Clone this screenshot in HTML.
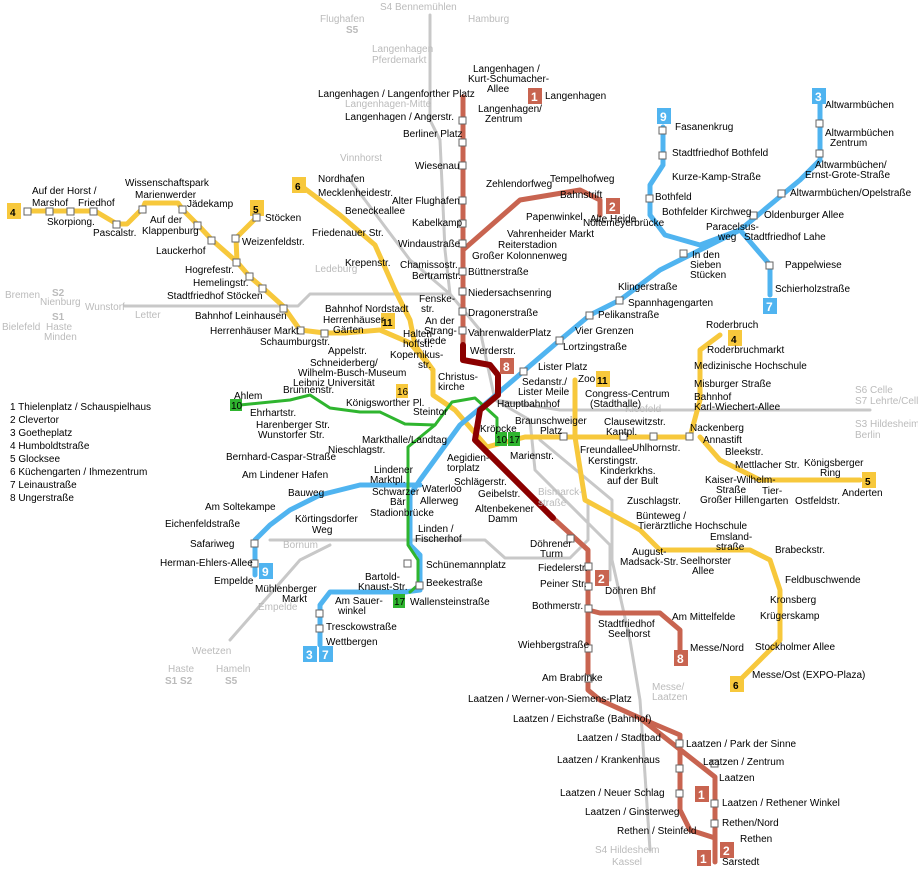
<!DOCTYPE html>
<html><head><meta charset="utf-8"><style>
body{margin:0;background:#fff}
svg{display:block}
text{font-family:"Liberation Sans",sans-serif;font-size:10px;fill:#000}
.g{fill:#bbb}
.b{font-weight:bold;font-size:12px;fill:#fff}
</style></head><body>
<svg width="918" height="876" viewBox="0 0 918 876" xmlns="http://www.w3.org/2000/svg">
<g fill="none" stroke-linejoin="round" stroke-linecap="round">
<!-- gray S-Bahn -->
<g stroke="#c8c8c8" stroke-width="3">
<polyline points="125,306 298,306 310,294 450,294 480,330 495,400 530,420 535,470 610,545 610,580"/>
<polyline points="430,15 430,120 440,140 445,250 450,294"/>
<polyline points="350,180 410,260 450,294"/>
<polyline points="495,400 560,410 870,410"/>
<polyline points="270,540 485,540 505,558 570,558 588,540 588,505"/>
<polyline points="540,440 600,490 612,500 612,560 630,640 640,700 650,850"/>
<polyline points="230,640 300,560 330,545"/>
</g>
<!-- yellow -->
<g stroke="#f7c83c" stroke-width="5">
<polyline points="28,211 95,211 117,224 127,224 143,208 145,203 178,203 183,210 198,225 212,240 237,262 250,277 263,288 283,306 300,330 325,333 345,333 380,330 410,343 433,370 433,395 455,410 487,447 525,437 690,437 700,400 700,350 720,335"/>
<polyline points="257,217 236,238 237,262"/>
<polyline points="300,185 340,215 375,245 395,290 410,320 415,345"/>
<polyline points="700,437 720,460 760,480 860,480"/>
<polyline points="575,380 575,437 585,500 640,530 660,550 750,550 770,560 780,590 780,640 740,680"/>
<polyline points="380,330 415,345 433,370"/>
</g>
<!-- blue -->
<g stroke="#50b4f0" stroke-width="5">
<polyline points="820,95 820,160 800,180 740,230 660,270 620,300 590,315 560,340 490,400 460,425 420,480 410,495 410,545 420,555 420,590 405,592 330,592 320,605 320,645"/>
<polyline points="663,127 663,165 650,185 650,215 665,235 700,245 740,230 770,265 770,295"/>
<polyline points="420,485 360,485 320,495 290,510 270,525 255,540 255,575"/>
</g>
<!-- green -->
<g stroke="#2fb52f" stroke-width="3">
<polyline points="240,405 290,400 310,395 330,408 360,412 380,412 405,424 435,425 452,402 475,398 497,418 497,440"/>
<polyline points="435,425 408,447 408,545 418,560 418,585 410,592"/>
</g>
<!-- red -->
<g stroke="#c86450" stroke-width="5">
<polyline points="463,97 463,345"/>
<polyline points="463,250 520,200 580,190 600,200 600,215"/>
<polyline points="553,518 588,550 588,690 600,700 640,718 715,777 715,862"/>
<polyline points="640,718 680,735 680,810 690,830 715,838"/>
<polyline points="588,610 600,613 660,613 680,630 680,650"/>
</g>
<polyline stroke="#8b0000" stroke-width="6" points="463,345 463,360 490,365 498,375 498,395 480,410 475,440 553,518"/>
</g>
<!-- badges -->
<g>
<rect x="7" y="203" width="14" height="16" fill="#f7c83c"/><text x="10" y="216" font-weight="bold" font-size="12">4</text>
<rect x="250" y="200" width="14" height="16" fill="#f7c83c"/><text x="253" y="213" font-weight="bold" font-size="12">5</text>
<rect x="292" y="177" width="14" height="16" fill="#f7c83c"/><text x="295" y="190" font-weight="bold" font-size="12">6</text>
<rect x="381" y="313" width="14" height="16" fill="#f7c83c"/><text x="382" y="326" font-weight="bold" font-size="12">11</text>
<rect x="596" y="371" width="14" height="16" fill="#f7c83c"/><text x="597" y="384" font-weight="bold" font-size="12">11</text>
<rect x="728" y="330" width="14" height="16" fill="#f7c83c"/><text x="731" y="343" font-weight="bold" font-size="12">4</text>
<rect x="862" y="472" width="14" height="16" fill="#f7c83c"/><text x="865" y="485" font-weight="bold" font-size="12">5</text>
<rect x="730" y="676" width="14" height="16" fill="#f7c83c"/><text x="733" y="689" font-weight="bold" font-size="12">6</text>
<rect x="396" y="384" width="12" height="14" fill="#f7c83c"/><text x="397" y="395" font-size="9">16</text>
<rect x="528" y="88" width="14" height="16" fill="#c86450"/><text x="531" y="101" class="b">1</text>
<rect x="606" y="198" width="14" height="16" fill="#c86450"/><text x="609" y="211" class="b">2</text>
<rect x="500" y="358" width="14" height="16" fill="#c86450"/><text x="503" y="371" class="b">8</text>
<rect x="595" y="570" width="14" height="16" fill="#c86450"/><text x="598" y="583" class="b">2</text>
<rect x="674" y="650" width="14" height="16" fill="#c86450"/><text x="677" y="663" class="b">8</text>
<rect x="695" y="786" width="14" height="16" fill="#c86450"/><text x="698" y="799" class="b">1</text>
<rect x="720" y="842" width="14" height="16" fill="#c86450"/><text x="723" y="855" class="b">2</text>
<rect x="697" y="850" width="14" height="16" fill="#c86450"/><text x="700" y="863" class="b">1</text>
<rect x="812" y="88" width="14" height="16" fill="#50b4f0"/><text x="815" y="101" class="b">3</text>
<rect x="657" y="108" width="14" height="16" fill="#50b4f0"/><text x="660" y="121" class="b">9</text>
<rect x="763" y="298" width="14" height="16" fill="#50b4f0"/><text x="766" y="311" class="b">7</text>
<rect x="259" y="563" width="14" height="16" fill="#50b4f0"/><text x="262" y="576" class="b">9</text>
<rect x="303" y="646" width="14" height="16" fill="#50b4f0"/><text x="306" y="659" class="b">3</text>
<rect x="319" y="646" width="14" height="16" fill="#50b4f0"/><text x="322" y="659" class="b">7</text>
<rect x="230" y="399" width="12" height="12" fill="#2fb52f"/><text x="231" y="409" font-size="8" fill="#fff">10</text>
<rect x="495" y="432" width="12" height="14" fill="#2fb52f"/><text x="496" y="443" font-size="8" fill="#fff">10</text>
<rect x="508" y="432" width="12" height="14" fill="#2fb52f"/><text x="509" y="443" font-size="8" fill="#fff">17</text>
<rect x="393" y="594" width="12" height="14" fill="#2fb52f"/><text x="394" y="605" font-size="8" fill="#fff">17</text>
</g>
<!-- stations -->
<g fill="#fff" stroke="#666" stroke-width="1">
<rect x="459" y="117" width="7" height="7"/><rect x="459" y="139" width="7" height="7"/><rect x="459" y="162" width="7" height="7"/><rect x="459" y="197" width="7" height="7"/><rect x="459" y="220" width="7" height="7"/><rect x="459" y="240" width="7" height="7"/><rect x="459" y="268" width="7" height="7"/><rect x="459" y="288" width="7" height="7"/><rect x="459" y="308" width="7" height="7"/><rect x="459" y="327" width="7" height="7"/>
<rect x="24" y="208" width="7" height="7"/><rect x="46" y="208" width="7" height="7"/><rect x="67" y="208" width="7" height="7"/><rect x="90" y="208" width="7" height="7"/><rect x="113" y="221" width="7" height="7"/><rect x="139" y="206" width="7" height="7"/><rect x="179" y="206" width="7" height="7"/><rect x="194" y="222" width="7" height="7"/><rect x="208" y="237" width="7" height="7"/><rect x="233" y="259" width="7" height="7"/><rect x="246" y="273" width="7" height="7"/><rect x="259" y="285" width="7" height="7"/><rect x="280" y="305" width="7" height="7"/><rect x="297" y="327" width="7" height="7"/><rect x="321" y="330" width="7" height="7"/><rect x="253" y="214" width="7" height="7"/><rect x="232" y="235" width="7" height="7"/>
<rect x="620" y="433" width="7" height="7"/><rect x="650" y="433" width="7" height="7"/><rect x="686" y="433" width="7" height="7"/><rect x="560" y="433" width="7" height="7"/>
<rect x="816" y="120" width="7" height="7"/><rect x="816" y="150" width="7" height="7"/><rect x="778" y="190" width="7" height="7"/><rect x="750" y="212" width="7" height="7"/><rect x="680" y="250" width="7" height="7"/><rect x="616" y="297" width="7" height="7"/><rect x="586" y="312" width="7" height="7"/><rect x="556" y="337" width="7" height="7"/><rect x="520" y="368" width="7" height="7"/>
<rect x="659" y="127" width="7" height="7"/><rect x="659" y="152" width="7" height="7"/><rect x="646" y="195" width="7" height="7"/><rect x="766" y="262" width="7" height="7"/>
<rect x="567" y="535" width="7" height="7"/><rect x="585" y="563" width="7" height="7"/><rect x="585" y="583" width="7" height="7"/><rect x="585" y="605" width="7" height="7"/><rect x="585" y="645" width="7" height="7"/><rect x="585" y="675" width="7" height="7"/><rect x="711" y="760" width="7" height="7"/><rect x="711" y="800" width="7" height="7"/><rect x="711" y="820" width="7" height="7"/><rect x="676" y="740" width="7" height="7"/><rect x="676" y="765" width="7" height="7"/><rect x="676" y="790" width="7" height="7"/>
<rect x="251" y="560" width="7" height="7"/><rect x="251" y="540" width="7" height="7"/><rect x="316" y="610" width="7" height="7"/><rect x="316" y="625" width="7" height="7"/><rect x="404" y="560" width="7" height="7"/><rect x="416" y="582" width="7" height="7"/>
</g>
<!-- labels gray -->
<g class="g">
<text x="320" y="22" class="g">Flughafen</text><text x="346" y="33" class="g" font-weight="bold">S5</text>
<text x="380" y="10" class="g">S4 Bennemühlen</text><text x="468" y="22" class="g">Hamburg</text>
<text x="372" y="52" class="g">Langenhagen</text><text x="372" y="63" class="g">Pferdemarkt</text>
<text x="345" y="107" class="g">Langenhagen-Mitte</text><text x="340" y="161" class="g">Vinnhorst</text>
<text x="315" y="272" class="g">Ledeburg</text>
<text x="5" y="298" class="g">Bremen</text><text x="52" y="296" class="g" font-weight="bold" font-size="12">S2</text><text x="40" y="305" class="g">Nienburg</text>
<text x="85" y="310" class="g">Wunstorf</text><text x="135" y="318" class="g">Letter</text>
<text x="52" y="320" class="g" font-weight="bold" font-size="12">S1</text><text x="46" y="330" class="g">Haste</text><text x="44" y="340" class="g">Minden</text><text x="2" y="330" class="g">Bielefeld</text>
<text x="625" y="412" class="g">Kleefeld</text>
<text x="855" y="393" class="g">S6 Celle</text><text x="855" y="404" class="g">S7 Lehrte/Celle</text><text x="855" y="427" class="g">S3 Hildesheim</text><text x="855" y="438" class="g">Berlin</text>
<text x="538" y="495" class="g">Bismarck-</text><text x="538" y="506" class="g">straße</text>
<text x="283" y="548" class="g">Bornum</text><text x="258" y="610" class="g">Empelde</text>
<text x="192" y="654" class="g">Weetzen</text><text x="168" y="672" class="g">Haste</text><text x="216" y="672" class="g">Hameln</text>
<text x="165" y="684" class="g" font-weight="bold" font-size="12">S1 S2</text><text x="225" y="684" class="g" font-weight="bold" font-size="12">S5</text>
<text x="652" y="690" class="g">Messe/</text><text x="652" y="700" class="g">Laatzen</text>
<text x="595" y="853" class="g">S4 Hildesheim</text><text x="612" y="865" class="g">Kassel</text>
</g>
<!-- labels -->
<g>
<text x="473" y="72">Langenhagen /</text><text x="468" y="82">Kurt-Schumacher-</text><text x="487" y="92">Allee</text>
<text x="545" y="99">Langenhagen</text><text x="478" y="112">Langenhagen/</text><text x="485" y="122">Zentrum</text>
<text x="318" y="97">Langenhagen / Langenforther Platz</text><text x="345" y="120">Langenhagen / Angerstr.</text>
<text x="403" y="137">Berliner Platz</text><text x="415" y="169">Wiesenau</text><text x="392" y="204">Alter Flughafen</text>
<text x="412" y="226">Kabelkamp</text><text x="398" y="247">Windaustraße</text><text x="400" y="268">Chamissostr.</text><text x="412" y="279">Bertramstr.</text>
<text x="468" y="275">Büttnerstraße</text><text x="468" y="296">Niedersachsenring</text><text x="468" y="316">Dragonerstraße</text><text x="468" y="336">VahrenwalderPlatz</text><text x="470" y="354">Werderstr.</text>
<text x="486" y="187">Zehlendorfweg</text><text x="550" y="182">Tempelhofweg</text><text x="560" y="198">Bahnstrift</text><text x="590" y="222">Alte Heide</text>
<text x="526" y="220">Papenwinkel</text><text x="507" y="237">Vahrenheider Markt</text><text x="498" y="248">Reiterstadion</text><text x="472" y="259">Großer Kolonnenweg</text>
<text x="318" y="182">Nordhafen</text><text x="318" y="196">Mecklenheidestr.</text><text x="345" y="214">Beneckeallee</text><text x="312" y="236">Friedenauer Str.</text><text x="345" y="266">Krepenstr.</text>
<text x="32" y="194">Auf der Horst /</text><text x="32" y="206">Marshof</text><text x="78" y="206">Friedhof</text><text x="47" y="225">Skorpiong.</text><text x="93" y="236">Pascalstr.</text>
<text x="125" y="186">Wissenschaftspark</text><text x="135" y="198">Marienwerder</text><text x="187" y="207">Jädekamp</text><text x="150" y="223">Auf der</text><text x="142" y="234">Klappenburg</text><text x="156" y="254">Lauckerhof</text>
<text x="265" y="221">Stöcken</text><text x="242" y="245">Weizenfeldstr.</text><text x="185" y="273">Hogrefestr.</text><text x="193" y="286">Hemelingstr.</text><text x="167" y="299">Stadtfriedhof Stöcken</text>
<text x="195" y="319">Bahnhof Leinhausen</text><text x="210" y="334">Herrenhäuser Markt</text><text x="260" y="345">Schaumburgstr.</text>
<text x="325" y="312">Bahnhof Nordstadt</text><text x="323" y="323">Herrenhäuser</text><text x="333" y="333">Gärten</text>
<text x="403" y="337">Halten-</text><text x="403" y="347">hoffstr.</text><text x="425" y="324">An der</text><text x="424" y="334">Strang-</text><text x="424" y="344">riede</text>
<text x="419" y="302">Fenske-</text><text x="421" y="312">str.</text>
<text x="328" y="354">Appelstr.</text><text x="310" y="366">Schneiderberg/</text><text x="298" y="376">Wilhelm-Busch-Museum</text><text x="293" y="386">Leibniz Universität</text>
<text x="390" y="358">Kopernikus-</text><text x="418" y="368">str.</text><text x="438" y="380">Christus-</text><text x="438" y="390">kirche</text>
<text x="346" y="406">Königsworther Pl.</text><text x="413" y="415">Steintor</text>
<text x="234" y="399">Ahlem</text><text x="250" y="416">Ehrhartstr.</text><text x="283" y="393">Brunnenstr.</text><text x="256" y="428">Harenberger Str.</text><text x="258" y="438">Wunstorfer Str.</text>
<text x="362" y="443">Markthalle/Landtag</text>
<text x="497" y="407">Hauptbahnhof</text><text x="480" y="432">Kröpcke</text><text x="515" y="424">Braunschweiger</text><text x="540" y="434">Platz</text>
<text x="510" y="459">Marienstr.</text><text x="447" y="461">Aegidien-</text><text x="447" y="471">torplatz</text><text x="454" y="485">Schlägerstr.</text><text x="478" y="497">Geibelstr.</text>
<text x="475" y="512">Altenbekener</text><text x="488" y="522">Damm</text><text x="530" y="547">Döhrener</text><text x="540" y="557">Turm</text>
<text x="538" y="571">Fiedelerstr.</text><text x="540" y="587">Peiner Str.</text><text x="605" y="594">Döhren Bhf</text><text x="532" y="609">Bothmerstr.</text>
<text x="598" y="627">Stadtfriedhof</text><text x="608" y="637">Seelhorst</text><text x="672" y="620">Am Mittelfelde</text><text x="690" y="651">Messe/Nord</text>
<text x="518" y="648">Wiehbergstraße</text><text x="542" y="681">Am Brabrinke</text>
<text x="468" y="702">Laatzen / Werner-von-Siemens-Platz</text><text x="513" y="722">Laatzen / Eichstraße (Bahnhof)</text>
<text x="577" y="741">Laatzen / Stadtbad</text><text x="686" y="747">Laatzen / Park der Sinne</text><text x="557" y="763">Laatzen / Krankenhaus</text><text x="703" y="765">Laatzen / Zentrum</text>
<text x="719" y="781">Laatzen</text><text x="560" y="796">Laatzen / Neuer Schlag</text><text x="722" y="806">Laatzen / Rethener Winkel</text>
<text x="585" y="815">Laatzen / Ginsterweg</text><text x="722" y="826">Rethen/Nord</text><text x="617" y="834">Rethen / Steinfeld</text><text x="740" y="842">Rethen</text><text x="722" y="865">Sarstedt</text>
<text x="675" y="130">Fasanenkrug</text><text x="672" y="156">Stadtfriedhof Bothfeld</text><text x="672" y="180">Kurze-Kamp-Straße</text><text x="655" y="200">Bothfeld</text><text x="662" y="215">Bothfelder Kirchweg</text>
<text x="825" y="108">Altwarmbüchen</text><text x="825" y="136">Altwarmbüchen</text><text x="830" y="146">Zentrum</text><text x="815" y="168">Altwarmbüchen/</text><text x="805" y="178">Ernst-Grote-Straße</text>
<text x="790" y="196">Altwarmbüchen/Opelstraße</text><text x="764" y="218">Oldenburger Allee</text><text x="706" y="230">Paracelsus-</text><text x="718" y="240">weg</text><text x="744" y="240">Stadtfriedhof Lahe</text>
<text x="692" y="258">In den</text><text x="690" y="268">Sieben</text><text x="690" y="278">Stücken</text><text x="785" y="268">Pappelwiese</text><text x="775" y="292">Schierholzstraße</text>
<text x="583" y="226">Noltemeyerbrücke</text><text x="618" y="290">Klingerstraße</text><text x="628" y="306">Spannhagengarten</text><text x="598" y="318">Pelikanstraße</text>
<text x="575" y="334">Vier Grenzen</text><text x="563" y="350">Lortzingstraße</text><text x="538" y="370">Lister Platz</text><text x="522" y="385">Sedanstr./</text><text x="518" y="395">Lister Meile</text>
<text x="578" y="382">Zoo</text><text x="585" y="397">Congress-Centrum</text><text x="590" y="407">(Stadthalle)</text>
<text x="604" y="425">Clausewitzstr.</text><text x="606" y="435">Kantpl.</text><text x="580" y="453">Freundallee</text><text x="632" y="451">Uhlhornstr.</text>
<text x="588" y="464">Kerstingstr.</text><text x="600" y="474">Kinderkrkhs.</text><text x="607" y="484">auf der Bult</text><text x="627" y="504">Zuschlagstr.</text>
<text x="636" y="519">Bünteweg /</text><text x="638" y="529">Tierärztliche Hochschule</text><text x="632" y="555">August-</text><text x="620" y="565">Madsack-Str.</text>
<text x="680" y="564">Seelhorster</text><text x="692" y="574">Allee</text><text x="710" y="540">Emsland-</text><text x="716" y="550">straße</text><text x="775" y="553">Brabeckstr.</text>
<text x="785" y="583">Feldbuschwende</text><text x="770" y="603">Kronsberg</text><text x="760" y="619">Krügerskamp</text><text x="755" y="650">Stockholmer Allee</text><text x="752" y="678">Messe/Ost (EXPO-Plaza)</text>
<text x="706" y="328">Roderbruch</text><text x="707" y="353">Roderbruchmarkt</text><text x="694" y="369">Medizinische Hochschule</text><text x="694" y="387">Misburger Straße</text>
<text x="694" y="400">Bahnhof</text><text x="694" y="410">Karl-Wiechert-Allee</text><text x="690" y="431">Nackenberg</text><text x="703" y="443">Annastift</text>
<text x="725" y="455">Bleekstr.</text><text x="735" y="468">Mettlacher Str.</text><text x="705" y="483">Kaiser-Wilhelm-</text><text x="716" y="493">Straße</text><text x="700" y="503">Großer Hillen</text>
<text x="762" y="494">Tier-</text><text x="760" y="504">garten</text><text x="795" y="504">Ostfeldstr.</text><text x="804" y="466">Königsberger</text><text x="820" y="476">Ring</text><text x="842" y="496">Anderten</text>
<text x="226" y="460">Bernhard-Caspar-Straße</text><text x="328" y="453">Nieschlagstr.</text><text x="242" y="478">Am Lindener Hafen</text>
<text x="374" y="473">Lindener</text><text x="370" y="483">Marktpl.</text><text x="372" y="495">Schwarzer</text><text x="390" y="505">Bär</text>
<text x="422" y="492">Waterloo</text><text x="420" y="504">Allerweg</text><text x="370" y="516">Stadionbrücke</text>
<text x="288" y="496">Bauweg</text><text x="205" y="510">Am Soltekampe</text><text x="295" y="522">Körtingsdorfer</text><text x="312" y="533">Weg</text>
<text x="165" y="527">Eichenfeldstraße</text><text x="190" y="547">Safariweg</text><text x="160" y="566">Herman-Ehlers-Allee</text><text x="214" y="584">Empelde</text>
<text x="418" y="532">Linden /</text><text x="415" y="542">Fischerhof</text><text x="426" y="568">Schünemannplatz</text><text x="426" y="586">Beekestraße</text><text x="410" y="605">Wallensteinstraße</text>
<text x="365" y="580">Bartold-</text><text x="358" y="590">Knaust-Str.</text><text x="255" y="592">Mühlenberger</text><text x="282" y="602">Markt</text>
<text x="335" y="604">Am Sauer-</text><text x="338" y="614">winkel</text><text x="326" y="630">Tresckowstraße</text><text x="326" y="645">Wettbergen</text>
<text x="10" y="410">1 Thielenplatz / Schauspielhaus</text><text x="10" y="423">2 Clevertor</text><text x="10" y="436">3 Goetheplatz</text><text x="10" y="449">4 Humboldtstraße</text>
<text x="10" y="462">5 Glocksee</text><text x="10" y="475">6 Küchengarten / Ihmezentrum</text><text x="10" y="488">7 Leinaustraße</text><text x="10" y="501">8 Ungerstraße</text>
</g>
</svg>
</body></html>
